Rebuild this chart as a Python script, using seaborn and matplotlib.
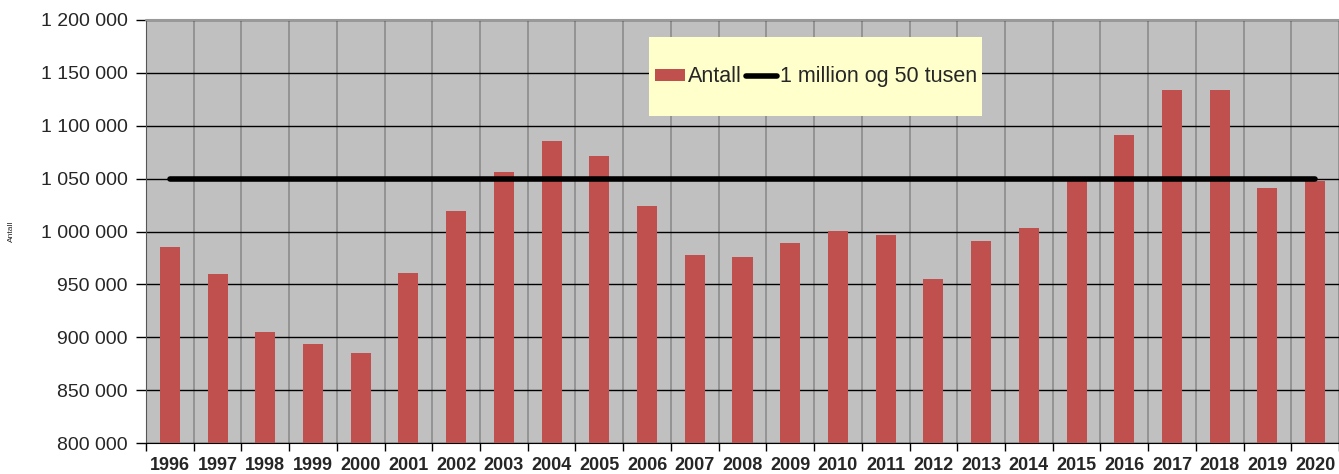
import numpy as np
import pandas as pd
import seaborn as sns
import matplotlib.pyplot as plt
from matplotlib.ticker import FuncFormatter, FixedLocator
from matplotlib.patches import Rectangle

years = [str(y) for y in range(1996, 2021)]
antall = [985000, 960000, 905000, 894000, 885000, 961000, 1019000, 1056000,
          1085500, 1071000, 1024000, 978000, 976000, 989000, 1000500, 997000,
          955000, 991000, 1003500, 1049000, 1091000, 1134000, 1134000,
          1041000, 1048000]
maal = [1050000] * len(years)

sns.set_style("white")
plt.rcParams['font.family'] = ['Liberation Sans', 'DejaVu Sans']

df = pd.DataFrame({'year': years, 'Antall': antall, 'maal': maal})

fig = plt.figure(figsize=(13.39, 4.74), dpi=100)
ax = fig.add_axes([146 / 1339, 31 / 474, 1193 / 1339, 423 / 474])
ax.set_facecolor('#C0C0C0')

sns.barplot(data=df, x='year', y='Antall', color='#C0504D', saturation=1,
            width=0.42, ax=ax, label='Antall', zorder=3, linewidth=0)
sns.lineplot(x=np.arange(len(years)), y=df['maal'], color='black',
             linewidth=4, solid_capstyle='round', ax=ax,
             label='1 million og 50 tusen', zorder=4)

ax.set_ylim(800000, 1200000)
ax.set_xlim(-0.5, len(years) - 0.5)
ax.set_yticks(np.arange(800000, 1200001, 50000))
ax.yaxis.set_major_formatter(
    FuncFormatter(lambda v, p: f"{int(v):,}".replace(',', ' ')))
ax.grid(axis='y', color='black', linewidth=1, zorder=1)
ax.set_axisbelow(True)

# category boundaries: gray grid + tick marks
ax.xaxis.set_minor_locator(FixedLocator(np.arange(-0.5, len(years), 1)))
ax.grid(axis='x', which='minor', color='#8C8C8C', linewidth=1.2)
ax.tick_params(axis='x', which='major', length=0, pad=10, labelsize=13)
ax.tick_params(axis='x', which='minor', length=6, color='black', width=1,
               direction='out', bottom=True)
for lab in ax.get_xticklabels():
    lab.set_fontweight('bold')
ax.tick_params(axis='y', length=7, color='black', width=1, direction='out',
               left=True, labelsize=14, pad=6)

ax.set_xlabel('')
ax.set_ylabel('Antall', fontsize=6)
ax.yaxis.set_label_coords(-0.11, 0.5)

for s in ['top', 'right']:
    ax.spines[s].set_visible(False)
ax.spines['left'].set_color('#555555')
ax.spines['bottom'].set_color('black')
ax.plot([0, 1], [1, 1], transform=ax.transAxes, color='#999999',
        linewidth=1.5, clip_on=False, zorder=5)

# legend box
ax.add_patch(Rectangle((0.4215, 0.772), 0.2795, 0.187, transform=ax.transAxes,
                       facecolor='#FFFFCC', edgecolor='none', zorder=6))
handles, labels = ax.get_legend_handles_labels()
order = [labels.index('Antall'), labels.index('1 million og 50 tusen')]
leg = ax.legend([handles[i] for i in order], [labels[i] for i in order],
                loc='center', bbox_to_anchor=(0.5615, 0.8655), ncol=2,
                frameon=False, fontsize=15.5, handlelength=1.4,
                handleheight=0.5, handletextpad=0.15, columnspacing=0.2,
                borderaxespad=0)
leg.set_zorder(7)

fig.savefig('out.png', dpi=100)
